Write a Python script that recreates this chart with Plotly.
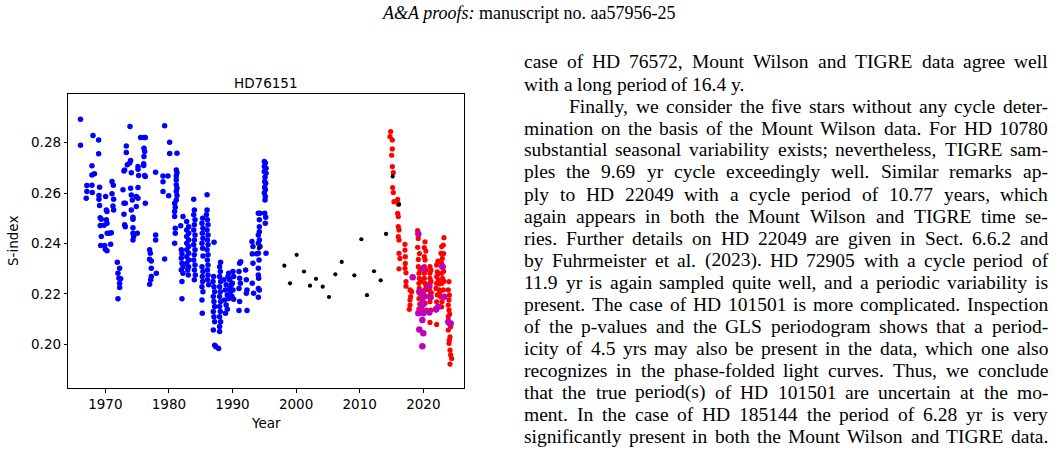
import plotly.graph_objects as go

# ---------------- data ----------------
mw_year = [
    1966.10, 1966.10,
    1967.10, 1967.10, 1967.00, 1968.06, 1967.90, 1967.90, 1968.30, 1967.90, 1967.95,
    1968.95, 1968.95, 1969.10, 1969.00, 1969.00, 1969.10, 1969.20, 1969.37, 1969.20, 1969.37, 1969.27, 1969.80,
    1969.90, 1970.00, 1970.26, 1970.05, 1970.16, 1970.26, 1970.16, 1970.26, 1970.30, 1970.68, 1970.94, 1970.84,
    1971.05, 1971.26, 1971.05, 1971.31, 1971.20, 1971.31,
    1971.89, 1972.25, 1971.99, 1972.15, 1972.41, 1972.25, 1972.25, 1971.99,
    1972.93, 1973.04, 1972.78, 1972.93, 1973.14, 1972.93, 1973.04, 1973.14,
    1973.30, 1973.30, 1973.46, 1973.83, 1973.98, 1974.09, 1973.98, 1974.09, 1974.25, 1974.09, 1974.35, 1974.35,
    1974.35, 1974.35, 1974.46, 1974.35, 1973.88,
    1975.14, 1975.14, 1975.24, 1975.14, 1974.87, 1975.14, 1974.87, 1975.03,
    1975.56, 1976.08, 1976.29, 1976.08, 1976.18, 1976.08, 1976.03, 1976.03, 1976.18, 1976.29, 1976.29,
    1976.97, 1977.08, 1976.97, 1977.23, 1977.23, 1977.23, 1977.13, 1976.97,
    1978.02, 1977.91, 1977.91, 1977.91,
    1979.33, 1979.07, 1979.07, 1979.07, 1979.33, 1979.85, 1979.96,
    1980.12, 1980.12, 1981.27, 1981.16, 1981.27, 1981.16, 1981.16, 1981.16, 1981.27, 1981.16, 1981.27, 1981.16,
    1980.90, 1981.00, 1980.90, 1980.90, 1981.00, 1981.00, 1980.90,
    1981.85, 1982.21, 1981.95, 1982.05, 1981.95, 1982.05, 1982.21, 1981.95, 1982.21, 1982.05, 1982.05,
    1982.80, 1983.10, 1982.80, 1983.10, 1982.80, 1983.10, 1982.80, 1983.10, 1982.80, 1983.10, 1982.80, 1983.10,
    1982.80, 1983.10, 1982.95, 1983.05,
    1983.90, 1984.00, 1983.90, 1984.10, 1984.00, 1983.90, 1984.10, 1984.00, 1983.90, 1984.10, 1984.00, 1983.90,
    1984.10, 1984.00, 1984.15, 1984.00,
    1985.30, 1985.20, 1985.35, 1985.25, 1985.35, 1985.20, 1985.30, 1985.35, 1985.20, 1985.35, 1985.25, 1985.30,
    1985.20, 1985.35, 1985.20, 1985.25,
    1986.00, 1986.00, 1985.90, 1986.05, 1986.15, 1986.00, 1986.15, 1986.05, 1986.15, 1986.00, 1986.15, 1986.05,
    1986.15, 1986.05, 1986.15, 1986.05, 1986.25, 1987.10,
    1987.03, 1986.93, 1987.08, 1987.19, 1986.98, 1987.08, 1987.19, 1986.98, 1987.08, 1987.19, 1986.98, 1987.20,
    1987.40,
    1988.13, 1987.97, 1988.08, 1987.97, 1988.13, 1987.97, 1988.08, 1987.97, 1988.13, 1987.97, 1988.08, 1987.97,
    1988.13, 1987.97, 1987.97, 1987.82,
    1988.66, 1989.00, 1988.87, 1989.18, 1988.76, 1989.00, 1989.18, 1989.55, 1989.29, 1989.81, 1989.70, 1989.92,
    1989.40, 1989.60, 1989.40, 1988.90,
    1990.07, 1990.18, 1989.97, 1990.07, 1990.18,
    1991.12, 1991.28, 1991.02, 1991.12, 1991.23, 1991.02, 1991.12, 1991.02,
    1992.07, 1992.17, 1992.28, 1992.17, 1992.28,
    1993.06, 1993.22, 1993.11, 1993.22, 1993.11, 1993.32,
    1994.06, 1994.32, 1994.22, 1994.22, 1994.22, 1994.06, 1994.22, 1994.06, 1994.32, 1994.06, 1993.80, 1994.17,
    1994.06, 1994.06, 1994.11, 1994.06, 1994.22, 1994.06,
    1995.00, 1995.16, 1995.00, 1995.27, 1995.00, 1995.27, 1995.11, 1995.06, 1995.22, 1995.06, 1995.16, 1995.00,
    1995.16, 1995.11, 1995.06, 1995.22, 1995.16, 1995.27,
]
mw_sindex = [
    0.2893, 0.2790,
    0.2630, 0.2606, 0.2580, 0.2828, 0.2708, 0.2672, 0.2677, 0.2631, 0.2602,
    0.2811, 0.2756, 0.2623, 0.2590, 0.2576, 0.2551, 0.2502, 0.2496, 0.2471, 0.2428, 0.2392, 0.2472,
    0.2392, 0.2377, 0.2371, 0.2586, 0.2533, 0.2527, 0.2494, 0.2480, 0.2441, 0.2441, 0.2443, 0.2397,
    0.2646, 0.2631, 0.2597, 0.2576, 0.2549, 0.2533,
    0.2326, 0.2302, 0.2282, 0.2262, 0.2260, 0.2242, 0.2226, 0.2181,
    0.2688, 0.2692, 0.2613, 0.2560, 0.2560, 0.2516, 0.2474, 0.2467,
    0.2787, 0.2761, 0.2712, 0.2719, 0.2729, 0.2681, 0.2619, 0.2592, 0.2573, 0.2533, 0.2504, 0.2496,
    0.2463, 0.2441, 0.2428, 0.2414, 0.2864,
    0.2705, 0.2695, 0.2670, 0.2622, 0.2586, 0.2580, 0.2547, 0.2441,
    0.2820, 0.2820, 0.2820, 0.2778, 0.2765, 0.2745, 0.2716, 0.2709, 0.2670, 0.2666, 0.2560,
    0.2375, 0.2361, 0.2338, 0.2331, 0.2302, 0.2269, 0.2256, 0.2238,
    0.2282, 0.2434, 0.2414, 0.2683,
    0.2867, 0.2668, 0.2645, 0.2606, 0.2339, 0.2668, 0.2589,
    0.2802, 0.2757, 0.2758, 0.2692, 0.2681, 0.2668, 0.2652, 0.2633, 0.2619, 0.2606, 0.2590, 0.2573,
    0.2560, 0.2544, 0.2527, 0.2507, 0.2461, 0.2441, 0.2401,
    0.2470, 0.2507, 0.2375, 0.2359, 0.2342, 0.2322, 0.2308, 0.2295, 0.2282, 0.2249, 0.2181,
    0.2487, 0.2467, 0.2454, 0.2441, 0.2428, 0.2414, 0.2401, 0.2388, 0.2375, 0.2361, 0.2348, 0.2335,
    0.2322, 0.2308, 0.2295, 0.2275,
    0.2576, 0.2533, 0.2514, 0.2494, 0.2474, 0.2454, 0.2434, 0.2414, 0.2395, 0.2375, 0.2355, 0.2335,
    0.2315, 0.2295, 0.2275, 0.2256,
    0.2500, 0.2480, 0.2461, 0.2441, 0.2421, 0.2401, 0.2381, 0.2351, 0.2308, 0.2289, 0.2269, 0.2249,
    0.2229, 0.2209, 0.2176, 0.2123,
    0.2593, 0.2533, 0.2514, 0.2494, 0.2474, 0.2454, 0.2434, 0.2414, 0.2395, 0.2375, 0.2355, 0.2335,
    0.2315, 0.2295, 0.2275, 0.2256, 0.2236, 0.2405,
    0.2269, 0.2249, 0.2229, 0.2209, 0.2190, 0.2170, 0.2150, 0.2130, 0.2110, 0.2090, 0.2057, 0.1997,
    0.1991,
    0.2326, 0.2308, 0.2289, 0.2269, 0.2249, 0.2229, 0.2209, 0.2190, 0.2170, 0.2150, 0.2130, 0.2110,
    0.2090, 0.2071, 0.2051, 0.1984,
    0.2256, 0.2236, 0.2216, 0.2196, 0.2176, 0.2156, 0.2139, 0.2256, 0.2269, 0.2236, 0.2209, 0.2190,
    0.2282, 0.2222, 0.2182, 0.2123,
    0.2289, 0.2269, 0.2242, 0.2216, 0.2179,
    0.2322, 0.2328, 0.2289, 0.2262, 0.2242, 0.2222, 0.2170, 0.2134,
    0.2295, 0.2256, 0.2216, 0.2203, 0.2134,
    0.2408, 0.2388, 0.2359, 0.2322, 0.2242, 0.2203,
    0.2520, 0.2520, 0.2494, 0.2467, 0.2447, 0.2434, 0.2414, 0.2401, 0.2388, 0.2361, 0.2359, 0.2335,
    0.2302, 0.2275, 0.2262, 0.2222, 0.2216, 0.2187,
    0.2725, 0.2719, 0.2705, 0.2699, 0.2686, 0.2679, 0.2663, 0.2646, 0.2639, 0.2623, 0.2613, 0.2600,
    0.2586, 0.2573, 0.2520, 0.2504, 0.2480, 0.2361,
]

tigre_year = [
    2014.87, 2014.76, 2015.13, 2015.13, 2015.02, 2015.13, 2015.29, 2015.18, 2015.29, 2015.39,
    2015.97, 2016.07, 2015.97, 2016.07, 2016.07, 2016.18, 2016.07, 2016.18, 2016.18, 2016.33, 2016.18,
    2017.12, 2017.12, 2017.17, 2017.17, 2017.12, 2017.28, 2017.28, 2017.28,
    2017.91, 2018.17, 2018.01, 2017.91, 2017.91, 2017.80,
    2019.11, 2019.11, 2019.22, 2019.22, 2019.32, 2019.37, 2019.32, 2019.37, 2019.48, 2019.32, 2019.74, 2020.00,
    2019.20, 2019.40, 2019.50, 2019.60, 2019.45, 2019.30,
    2020.27, 2020.16, 2020.16, 2020.27, 2020.16, 2020.16, 2020.16, 2020.27, 2020.27, 2020.37, 2020.27, 2020.53,
    2020.40, 2020.40, 2020.45,
    2021.05, 2021.05, 2021.05, 2021.05, 2020.95, 2021.05, 2021.05, 2021.16, 2021.05, 2021.20, 2021.20, 2021.25,
    2022.10, 2022.20, 2022.10, 2022.10, 2022.00, 2022.20, 2022.10, 2022.00, 2022.10, 2022.36, 2022.52, 2022.73,
    2022.30, 2022.40, 2022.50, 2022.30,
    2023.25, 2023.15, 2022.89, 2022.78, 2022.99, 2022.89, 2023.15, 2022.89, 2023.04, 2022.89, 2023.15, 2023.04,
    2022.94, 2022.89, 2022.62, 2023.20, 2023.20, 2023.25,
    2024.04, 2023.93, 2024.04, 2023.93, 2024.04, 2023.93, 2024.04, 2023.93, 2024.20, 2024.04, 2024.20, 2024.30,
    2024.20, 2024.46, 2024.10, 2024.15, 2024.30, 2024.10,
]
tigre_sindex = [
    0.2844, 0.2824, 0.2811, 0.2775, 0.2750, 0.2705, 0.2681, 0.2622, 0.2602, 0.2566,
    0.2575, 0.2556, 0.2520, 0.2507, 0.2467, 0.2454, 0.2427, 0.2414, 0.2361, 0.2341, 0.2300,
    0.2397, 0.2374, 0.2348, 0.2321, 0.2302, 0.2284, 0.2249, 0.2231,
    0.2216, 0.2209, 0.2189, 0.2176, 0.2156, 0.2139,
    0.2451, 0.2385, 0.2337, 0.2308, 0.2282, 0.2262, 0.2242, 0.2222, 0.2202, 0.2182, 0.2209, 0.2189,
    0.2420, 0.2360, 0.2295, 0.2250, 0.2160, 0.2140,
    0.2407, 0.2384, 0.2348, 0.2335, 0.2308, 0.2282, 0.2262, 0.2242, 0.2216, 0.2189, 0.2163, 0.2136,
    0.2370, 0.2295, 0.2230,
    0.2308, 0.2282, 0.2262, 0.2242, 0.2216, 0.2196, 0.2169, 0.2136, 0.2087, 0.2295, 0.2250, 0.2205,
    0.2315, 0.2288, 0.2269, 0.2242, 0.2222, 0.2196, 0.2169, 0.2136, 0.2079, 0.2255, 0.2216, 0.2189,
    0.2330, 0.2280, 0.2240, 0.2150,
    0.2423, 0.2394, 0.2388, 0.2361, 0.2341, 0.2321, 0.2308, 0.2282, 0.2262, 0.2242, 0.2216, 0.2189,
    0.2169, 0.2149, 0.2209, 0.2360, 0.2290, 0.2250,
    0.2249, 0.2216, 0.2176, 0.2156, 0.2136, 0.2110, 0.2083, 0.2057, 0.2030, 0.2004, 0.1977, 0.1958,
    0.1922, 0.1944, 0.2195, 0.2120, 0.2070, 0.2017,
]

extra_year = [2018.33, 2019.22, 2019.37, 2019.85, 2020.00, 2020.00, 2019.90, 2019.74, 2019.85, 2019.22,
              2020.00, 2019.85, 2019.37, 2020.00, 2019.85, 2020.00, 2020.95, 2021.16, 2020.95, 2022.00,
              2022.36, 2022.99, 2023.30, 2023.93, 2024.30]
extra_sindex = [0.2266, 0.2438, 0.2209, 0.2209, 0.2302, 0.2196, 0.2169, 0.2149, 0.2130, 0.2123,
                0.2123, 0.2097, 0.2059, 0.2044, 0.1993, 0.2160, 0.2231, 0.2187, 0.2126, 0.2139,
                0.2149, 0.2308, 0.2189, 0.2090, 0.2083]

other_year = [1994.17, 1998.15, 1999.04, 2000.09, 2001.24, 2002.19, 2003.13, 2004.18, 2005.17, 2006.17,
              2007.17, 2009.16, 2010.26, 2011.15, 2012.25, 2013.30, 2014.14, 2015.18, 2016.18]
other_sindex = [0.2381, 0.2312, 0.2242, 0.2355, 0.2289, 0.2233, 0.2260, 0.2229, 0.2188, 0.2278,
                0.2327, 0.2274, 0.2417, 0.2195, 0.2290, 0.2254, 0.2438, 0.2666, 0.2555]

x_ticks = [1970, 1980, 1990, 2000, 2010, 2020]
y_ticks = [0.20, 0.22, 0.24, 0.26, 0.28]

chart_title = "HD76151"
x_label = "Year"
y_label = "S-index"
header_text = "<i>A&amp;A proofs:</i> manuscript no. aa57956-25"

body_lines = [
    "case of HD 76572, Mount Wilson and TIGRE data agree well",
    "with a long period of 16.4 y.",
    "Finally, we consider the five stars without any cycle deter-",
    "mination on the basis of the Mount Wilson data. For HD 10780",
    "substantial seasonal variability exists; nevertheless, TIGRE sam-",
    "ples the 9.69 yr cycle exceedingly well. Similar remarks ap-",
    "ply to HD 22049 with a cycle period of 10.77 years, which",
    "again appears in both the Mount Wilson and TIGRE time se-",
    "ries. Further details on HD 22049 are given in Sect. 6.6.2 and",
    "by Fuhrmeister et al. (2023). HD 72905 with a cycle period of",
    "11.9 yr is again sampled quite well, and a periodic variability is",
    "present. The case of HD 101501 is more complicated. Inspection",
    "of the p-values and the GLS periodogram shows that a period-",
    "icity of 4.5 yrs may also be present in the data, which one also",
    "recognizes in the phase-folded light curves. Thus, we conclude",
    "that the true period(s) of HD 101501 are uncertain at the mo-",
    "ment. In the case of HD 185144 the period of 6.28 yr is very",
    "significantly present in both the Mount Wilson and TIGRE data.",
]
line_justified = [True, False] + [True] * 16
line_indented = [False, False, True] + [False] * 15

# ---------------- layout constants ----------------
W, H = 1056, 452
AX_L, AX_R, AX_T, AX_B = 68.3, 464.0, 94.0, 388.0
X_RANGE = [1964.18, 2026.4]
Y_RANGE = [0.1827, 0.2993]

TEXT_L, TEXT_R = 523.0, 1047.0
INDENT = 45.0
BODY_SIZE = 19.5
LINE_Y0 = 62.0
LINE_STEP = 22.0
SANS = "DejaVu Sans"
SERIF = "Liberation Serif"
TICK_SIZE = 13.5

TIMES = {' ': 250, '.': 250, ',': 250, ';': 278, ':': 278, '-': 333, '(': 333, ')': 333, '&': 778}
for c in '0123456789':
    TIMES[c] = 500
TIMES.update(dict(zip("ABCDEFGHIJKLMNOPQRSTUVWXYZ",
                      [722, 667, 667, 722, 611, 556, 722, 722, 333, 389, 722, 611, 889, 722, 722, 556, 722,
                       667, 556, 611, 722, 722, 944, 722, 722, 611])))
TIMES.update(dict(zip("abcdefghijklmnopqrstuvwxyz",
                      [444, 500, 444, 500, 444, 333, 500, 500, 278, 278, 500, 278, 778, 500, 500, 500, 500,
                       333, 389, 278, 500, 500, 722, 500, 500, 444])))


def word_width(w, size):
    return sum(TIMES.get(c, 500) for c in w) * size / 1000.0


def px(x):
    return x / W


def py(y):
    return 1.0 - y / H


fig = go.Figure()
fig.add_trace(go.Scatter(x=mw_year, y=mw_sindex, mode="markers",
                         marker=dict(color="#0000ff", size=5.5, line=dict(width=0)), showlegend=False))
fig.add_trace(go.Scatter(x=tigre_year, y=tigre_sindex, mode="markers",
                         marker=dict(color="#ff0000", size=5.2, line=dict(width=0)), showlegend=False))
fig.add_trace(go.Scatter(x=extra_year, y=extra_sindex, mode="markers",
                         marker=dict(color="#bf00bf", size=6.5, line=dict(width=0)), showlegend=False))
fig.add_trace(go.Scatter(x=other_year, y=other_sindex, mode="markers",
                         marker=dict(color="#000000", size=4.2, line=dict(width=0)), showlegend=False))

axis_common = dict(showgrid=False, zeroline=False, showline=True, linecolor="black", linewidth=1,
                   mirror=True, ticks="outside", ticklen=3.5, tickwidth=0.8, tickcolor="black",
                   tickfont=dict(family=SANS, size=TICK_SIZE, color="black"))

fig.update_layout(
    width=W, height=H, autosize=False,
    margin=dict(l=0, r=0, t=0, b=0),
    paper_bgcolor="white", plot_bgcolor="white",
    xaxis=dict(domain=[px(AX_L), px(AX_R)], range=X_RANGE, tickvals=x_ticks,
               ticktext=[str(v) for v in x_ticks], **axis_common),
    yaxis=dict(domain=[py(AX_B), py(AX_T)], range=Y_RANGE, tickvals=y_ticks,
               ticktext=["%.2f" % v for v in y_ticks], **axis_common),
)

ann = []
ann.append(dict(text=chart_title, x=px((AX_L + AX_R) / 2), y=py(83), xref="paper", yref="paper",
                xanchor="center", yanchor="middle", showarrow=False,
                font=dict(family=SANS, size=TICK_SIZE, color="black")))
ann.append(dict(text=x_label, x=px((AX_L + AX_R) / 2), y=py(423), xref="paper", yref="paper",
                xanchor="center", yanchor="middle", showarrow=False,
                font=dict(family=SANS, size=TICK_SIZE, color="black")))
ann.append(dict(text=y_label, x=px(13), y=py((AX_T + AX_B) / 2), xref="paper", yref="paper",
                xanchor="center", yanchor="middle", showarrow=False, textangle=-90,
                font=dict(family=SANS, size=TICK_SIZE, color="black")))
ann.append(dict(text=header_text, x=px(528), y=py(13), xref="paper", yref="paper",
                xanchor="center", yanchor="middle", showarrow=False,
                font=dict(family=SERIF, size=18, color="black")))

for i, line in enumerate(body_lines):
    words = line.split(" ")
    widths = [word_width(w, BODY_SIZE) for w in words]
    x0 = TEXT_L + (INDENT if line_indented[i] else 0.0)
    if line_justified[i] and len(words) > 1:
        gap = (TEXT_R - x0 - sum(widths)) / (len(words) - 1)
    else:
        gap = 0.25 * BODY_SIZE
    yc = LINE_Y0 + LINE_STEP * i
    x = x0
    for w, wd in zip(words, widths):
        ann.append(dict(text=w, x=px(x), y=py(yc), xref="paper", yref="paper",
                        xanchor="left", yanchor="middle", showarrow=False, borderpad=0,
                        font=dict(family=SERIF, size=BODY_SIZE, color="black")))
        x += wd + gap

fig.update_layout(annotations=ann)
fig.write_html("out.html")
